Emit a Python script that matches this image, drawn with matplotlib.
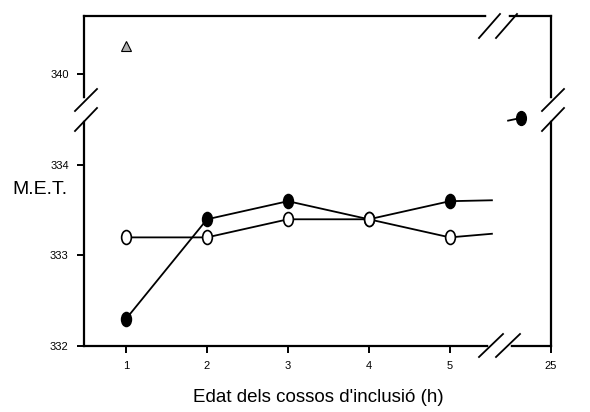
import numpy as np
import matplotlib
matplotlib.use('Agg')
import matplotlib.pyplot as plt
from matplotlib.markers import MarkerStyle
from matplotlib.transforms import Affine2D

plt.rcParams['font.family'] = ['Liberation Sans', 'DejaVu Sans']

# hours on the broken x axis; 25 h is drawn past the break
hores = [1, 2, 3, 4, 5]
met_ple = [332.3, 333.4, 333.6, 333.4, 333.6]
met_buit = [333.2, 333.2, 333.4, 333.4, 333.2]

# short stubs running into the break after 5 h
cua_x = [5, 5.52]
cua_ple = [333.6, 333.61]
cua_buit = [333.2, 333.24]

# points above the y break (drawn with the axis offset of -5)
triangle_x, triangle_y = [1], [340.31]
punt25_x, punt25_y = [5.88], [339.52]
cua25_x, cua25_y = [5.72, 5.88], [339.49, 339.52]
salt_y = 5  # 340 is plotted where 335 would sit

xticks_pos = [1, 2, 3, 4, 5, 6.25]
xticks_lab = ['1', '2', '3', '4', '5', '25']
yticks_pos = [332, 333, 334, 335]
yticks_lab = ['332', '333', '334', '340']

fig = plt.figure(figsize=(5.9, 4.12), dpi=100)
ax = fig.add_axes([84/590, 1-346/412, (551-84)/590, (346-16)/412])

oval = MarkerStyle('o', transform=Affine2D().scale(0.7, 1.0))

ax.plot(hores, met_ple, color='black', lw=1.3, marker=oval, ms=10,
        mfc='black', mec='black', mew=1.2, zorder=3)
ax.plot(hores, met_buit, color='black', lw=1.3, marker=oval, ms=10,
        mfc='white', mec='black', mew=1.2, zorder=4)
ax.plot(cua_x, cua_ple, color='black', lw=1.3, zorder=2)
ax.plot(cua_x, cua_buit, color='black', lw=1.3, zorder=2)

ax.plot(triangle_x, np.array(triangle_y) - salt_y, ls='none', marker='^', ms=7,
        mfc='#b0b0b0', mec='black', mew=0.8)
ax.plot(cua25_x, np.array(cua25_y) - salt_y, color='black', lw=1.3)
ax.plot(punt25_x, np.array(punt25_y) - salt_y, ls='none', marker=oval, ms=10,
        mfc='black', mec='black')

ax.set_xlim(0.48, 6.25)
ax.set_ylim(332, 335.646)
ax.set_xticks(xticks_pos)
ax.set_xticklabels(xticks_lab, fontsize=8)
ax.set_yticks(yticks_pos)
ax.set_yticklabels(yticks_lab, fontsize=8)
ax.tick_params(direction='out', length=5, width=1.4, pad=6)
for s in ax.spines.values():
    s.set_linewidth(1.6)

# gaps and double slashes marking the axis breaks (pixel coordinates)
def px(x, y):
    return x / 590, 1 - y / 412

def tall(x0, y0, x1, y1):
    a, b = px(x0, y0)
    c, d = px(x1, y1)
    fig.add_artist(plt.Line2D([a, c], [b, d], color='white', lw=4, zorder=10))

def barra(x0, y0, x1, y1):
    a, b = px(x0, y0)
    c, d = px(x1, y1)
    fig.add_artist(plt.Line2D([a, c], [b, d], color='black', lw=1.3, zorder=11))

# left and right y breaks
for xe in (84, 551):
    tall(xe, 101, xe, 118)
    barra(xe - 9, 111, xe + 13, 89)
    barra(xe - 9, 131, xe + 13, 108)
# top x break
tall(489, 16, 506, 16)
barra(479, 38, 500, 14)
barra(496, 38, 517, 14)
# bottom x break
tall(491, 346, 508, 346)
barra(479, 357, 503, 334)
barra(496, 357, 520, 334)

fig.text(12/590, 1 - 190/412, 'M.E.T.', fontsize=14, va='center', ha='left')
fig.text(318/590, 1 - 398/412, "Edat dels cossos d'inclusió (h)", fontsize=13.5,
         va='center', ha='center')

fig.savefig('out.png', dpi=100)
